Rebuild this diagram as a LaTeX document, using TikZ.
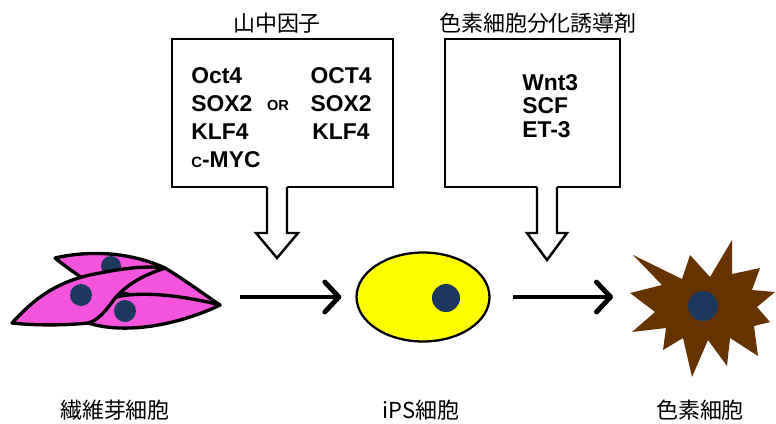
\documentclass[tikz,border=0pt]{standalone}
\usepackage{fontspec}
\setmainfont{Liberation Sans}
\newfontfamily\jpfont{Noto Sans CJK JP}
\usetikzlibrary{arrows.meta,shapes.geometric}
\definecolor{cellpink}{RGB}{245,85,220}
\definecolor{nucleusblue}{RGB}{28,56,92}
\definecolor{ipsyellow}{RGB}{255,255,0}
\definecolor{melbrown}{RGB}{102,51,0}

\tikzset{
  factorbox/.style={draw, line width=1.6pt, inner sep=0pt, minimum height=2.96cm},
  gene/.style={font=\fontsize{13}{15}\selectfont\bfseries, inner sep=0pt},
  jplabel/.style={font=\jpfont\fontsize{12.5}{15}\selectfont, inner sep=0pt},
  nucleus/.style={circle, fill=nucleusblue, inner sep=0pt},
  cell/.style={fill=cellpink, draw=black, line width=1.9pt, line join=round},
  flow/.style={line width=2.8pt, -{Straight Barb[round, length=8pt, width=17pt]}},
  hollow/.style={line width=1.4pt, line join=miter}
}

\begin{document}
\begin{tikzpicture}[x=0.02cm,y=-0.02cm]
        \useasboundingbox (0,0) rectangle (776,423);

        % the two factor boxes with their titles
        \node[factorbox, minimum width=4.42cm] (yamanaka) at (282.5,113) {};
        \node[factorbox, minimum width=3.5cm] (inducer) at (532.5,113) {};
        \node[jplabel] (yamanaka-title) at (277,23) {山中因子};
        \node[jplabel] (inducer-title) at (538,23) {色素細胞分化誘導剤};

        % gene names, one line each
        \foreach \g [count=\i] in {Oct4,SOX2,KLF4,{{\fontsize{8.5}{10}\selectfont C}-MYC}}
                \node[gene, anchor=base west] (left-\i) at (191,55+28*\i) {\g};
        \foreach \g [count=\i] in {OCT4,SOX2,KLF4}
                \node[gene, anchor=base] (right-\i) at (341,55+28*\i) {\g};
        \node[gene, font=\fontsize{8.3}{10}\selectfont\bfseries, anchor=base] (or) at (278,110) {OR};
        \foreach \g [count=\i] in {Wnt3,SCF,ET-3}
                \node[gene, anchor=base west] (inducer-\i) at (522,66.5+23.5*\i) {\g};

        % open arrows coming down out of the boxes
        \foreach \ax/\hw/\tip in {277/21/258, 547/20/260} {
                \fill[white] (\ax-10,185) -- (\ax-10,233) -- (\ax-\hw,233) -- (\ax,\tip)
                        -- (\ax+\hw,233) -- (\ax+10,233) -- (\ax+10,185) -- cycle;
                \draw[hollow] (\ax-10,187) -- (\ax-10,233) -- (\ax-\hw,233) -- (\ax,\tip)
                        -- (\ax+\hw,233) -- (\ax+10,233) -- (\ax+10,187);
        }

        % fibroblasts: back cell, lower right cell, front cell
        \draw[cell] (55,258) .. controls (90,250) and (130,252) .. (165,268)
                .. controls (185,280) and (205,295) .. (220,305)
                .. controls (180,300) and (110,300) .. (75,273)
                .. controls (65,266) and (60,262) .. cycle;
        \node[nucleus, minimum size=0.4cm] (fib-nuc-1) at (111,266) {};
        \draw[cell] (88,323) .. controls (130,336) and (185,322) .. (220,305)
                .. controls (185,296) and (140,290) .. (112,298)
                .. controls (100,305) and (93,315) .. cycle;
        \node[nucleus, minimum size=0.44cm] (fib-nuc-2) at (125,311) {};
        \draw[cell] (12,323) .. controls (35,298) and (58,280) .. (100,273)
                .. controls (130,267) and (150,266) .. (165,268)
                .. controls (135,278) and (120,290) .. (110,305)
                .. controls (102,315) and (96,321) .. (88,323)
                .. controls (60,326) and (30,325) .. cycle;
        \node[nucleus, minimum size=0.44cm] (fib-nuc-3) at (81,295) {};
        \coordinate (fib-out) at (240,297);

        % iPS cell
        \node[ellipse, draw, line width=1.3pt, fill=ipsyellow, inner sep=0pt,
              minimum width=2.66cm, minimum height=1.78cm] (ips) at (423,297) {};
        \node[nucleus, minimum size=0.56cm] (ips-nuc) at (446,298) {};

        % melanocyte
        \fill[melbrown] (633,255) -- (682,279) -- (690,255) -- (710,277) -- (732,240)
                -- (732,274) -- (760,268) -- (752,290) -- (775,292) -- (757,307)
                -- (770,322) -- (754,326) -- (758,356) -- (730,338) -- (727,366)
                -- (708,340) -- (692,377) -- (683,338) -- (663,350) -- (666,328)
                -- (632,332) -- (655,312) -- (630,293) -- (662,285) -- cycle;
        \node[nucleus, minimum size=0.6cm] (mel-nuc) at (703,306) {};
        \coordinate (mel-in) at (613,297);

        % steps of the differentiation
        \draw[flow] (fib-out) -- ([xshift=-0.28cm]ips.west);
        \draw[flow] ([xshift=0.44cm]ips.east) -- (mel-in);

        % cell names
        \node[jplabel] (fib-name) at (115,410) {繊維芽細胞};
        \node[jplabel] (ips-name) at (421,410) {iPS細胞};
        \node[jplabel] (mel-name) at (700,410) {色素細胞};
\end{tikzpicture}
\end{document}
